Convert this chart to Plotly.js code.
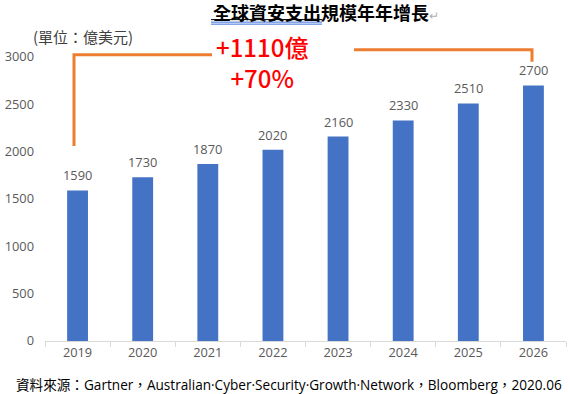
<!DOCTYPE html>
<html>
<head>
<meta charset="utf-8">
<script src="https://cdn.plot.ly/plotly-3.0.1.min.js"></script>
<style>html,body{margin:0;padding:0;background:#fff;}#chart{width:570px;height:394px;}</style>
</head>
<body>
<div id="chart"></div>
<script>
// ---- data ----
const years = ['2019','2020','2021','2022','2023','2024','2025','2026'];
const spending = [1590, 1730, 1870, 2020, 2160, 2330, 2510, 2700];
const yTicks = [0, 500, 1000, 1500, 2000, 2500, 3000];
const titleText = '全球資安支出規模年年增長';
const unitText = '(單位：億美元)';
const growthAbs = '+1110億';
const growthPct = '+70%';
const sourceText = '資料來源：Gartner，Australian·Cyber·Security·Growth·Network，Bloomberg，2020.06';

// ---- layout geometry (pixels) ----
const W = 570, H = 394;
const L = 45, R = 566, T = 57.3, B = 340.7;
const px = x => (x - L) / (R - L);
const py = y => (B - y) / (B - T);

const FONT = '"Open Sans", "Noto Sans CJK TC", sans-serif';
const CJK = '"Noto Sans CJK TC", "Open Sans", sans-serif';
const GRAY = '#595959';
const ORANGE = '#ED7D31';
const TS = 12.8;

const trace = {
  type: 'bar',
  x: years,
  y: spending,
  marker: {color: '#4472C4'},
  hoverinfo: 'x+y'
};

const annotations = spending.map((v, i) => ({
  x: i, y: v, xref: 'x', yref: 'y',
  text: String(v), showarrow: false,
  yanchor: 'bottom', yshift: 4,
  font: {family: FONT, size: TS, color: GRAY}
}));

annotations.push(
  {xref: 'paper', yref: 'paper', x: px(211), y: py(12), xanchor: 'left', yanchor: 'middle',
   text: '<b>' + titleText + '</b><span style="color:#b0b0b0;font-size:12px">↵</span>', showarrow: false,
   font: {family: CJK, size: 18, color: '#000'}},
  {xref: 'paper', yref: 'paper', x: px(31), y: py(37), xanchor: 'left', yanchor: 'middle',
   text: unitText, showarrow: false,
   font: {family: CJK, size: 15, color: '#404040'}},
  {xref: 'paper', yref: 'paper', x: px(262), y: py(62), xanchor: 'center', yanchor: 'middle',
   text: growthAbs + '<br>' + growthPct, showarrow: false, align: 'center',
   font: {family: CJK, size: 24, color: '#FF0000', weight: 500}},
  {xref: 'paper', yref: 'paper', x: px(14), y: py(384), xanchor: 'left', yanchor: 'middle',
   text: sourceText, showarrow: false,
   font: {family: '"Open Sans", "Noto Sans CJK TC", sans-serif', size: 13.6, color: '#000'}}
);

const shapes = [
  {type: 'path', xref: 'paper', yref: 'paper',
   path: `M ${px(74)} ${py(146)} L ${px(74)} ${py(55)} L ${px(212)} ${py(55)}`,
   line: {color: ORANGE, width: 3}},
  {type: 'path', xref: 'paper', yref: 'paper',
   path: `M ${px(354)} ${py(50)} L ${px(532)} ${py(50)} L ${px(532)} ${py(62)}`,
   line: {color: ORANGE, width: 3}},
  {type: 'line', xref: 'paper', yref: 'paper', x0: px(211), x1: px(322), y0: py(20), y1: py(20),
   line: {color: '#000', width: 1}},
  {type: 'line', xref: 'paper', yref: 'paper', x0: px(211), x1: px(322), y0: py(22.5), y1: py(22.5),
   line: {color: '#3a6fd8', width: 1}},
  {type: 'line', xref: 'paper', yref: 'paper', x0: px(211), x1: px(322), y0: py(24.5), y1: py(24.5),
   line: {color: '#3a6fd8', width: 1}}
];

const layout = {
  width: W, height: H,
  margin: {l: L, r: W - R, t: T, b: H - B, pad: 0},
  paper_bgcolor: '#fff', plot_bgcolor: '#fff',
  showlegend: false,
  bargap: 0.68,
  font: {family: FONT, size: TS, color: GRAY},
  xaxis: {
    type: 'category',
    range: [-0.5, years.length - 0.5],
    showline: true, linecolor: '#d9d9d9', linewidth: 1,
    ticks: 'outside', tickson: 'boundaries', ticklen: 5, tickcolor: '#d9d9d9',
    showgrid: false, zeroline: false,
    tickfont: {family: FONT, size: TS, color: GRAY}
  },
  yaxis: {
    range: [0, 3000], tickvals: yTicks, ticktext: yTicks.map(String),
    showgrid: false, zeroline: false, showline: false, ticks: '',
    ticklabelstandoff: 10,
    tickfont: {family: FONT, size: TS, color: GRAY}
  },
  annotations: annotations,
  shapes: shapes
};

Plotly.newPlot('chart', [trace], layout, {displayModeBar: false, staticPlot: true});
</script>
</body>
</html>
